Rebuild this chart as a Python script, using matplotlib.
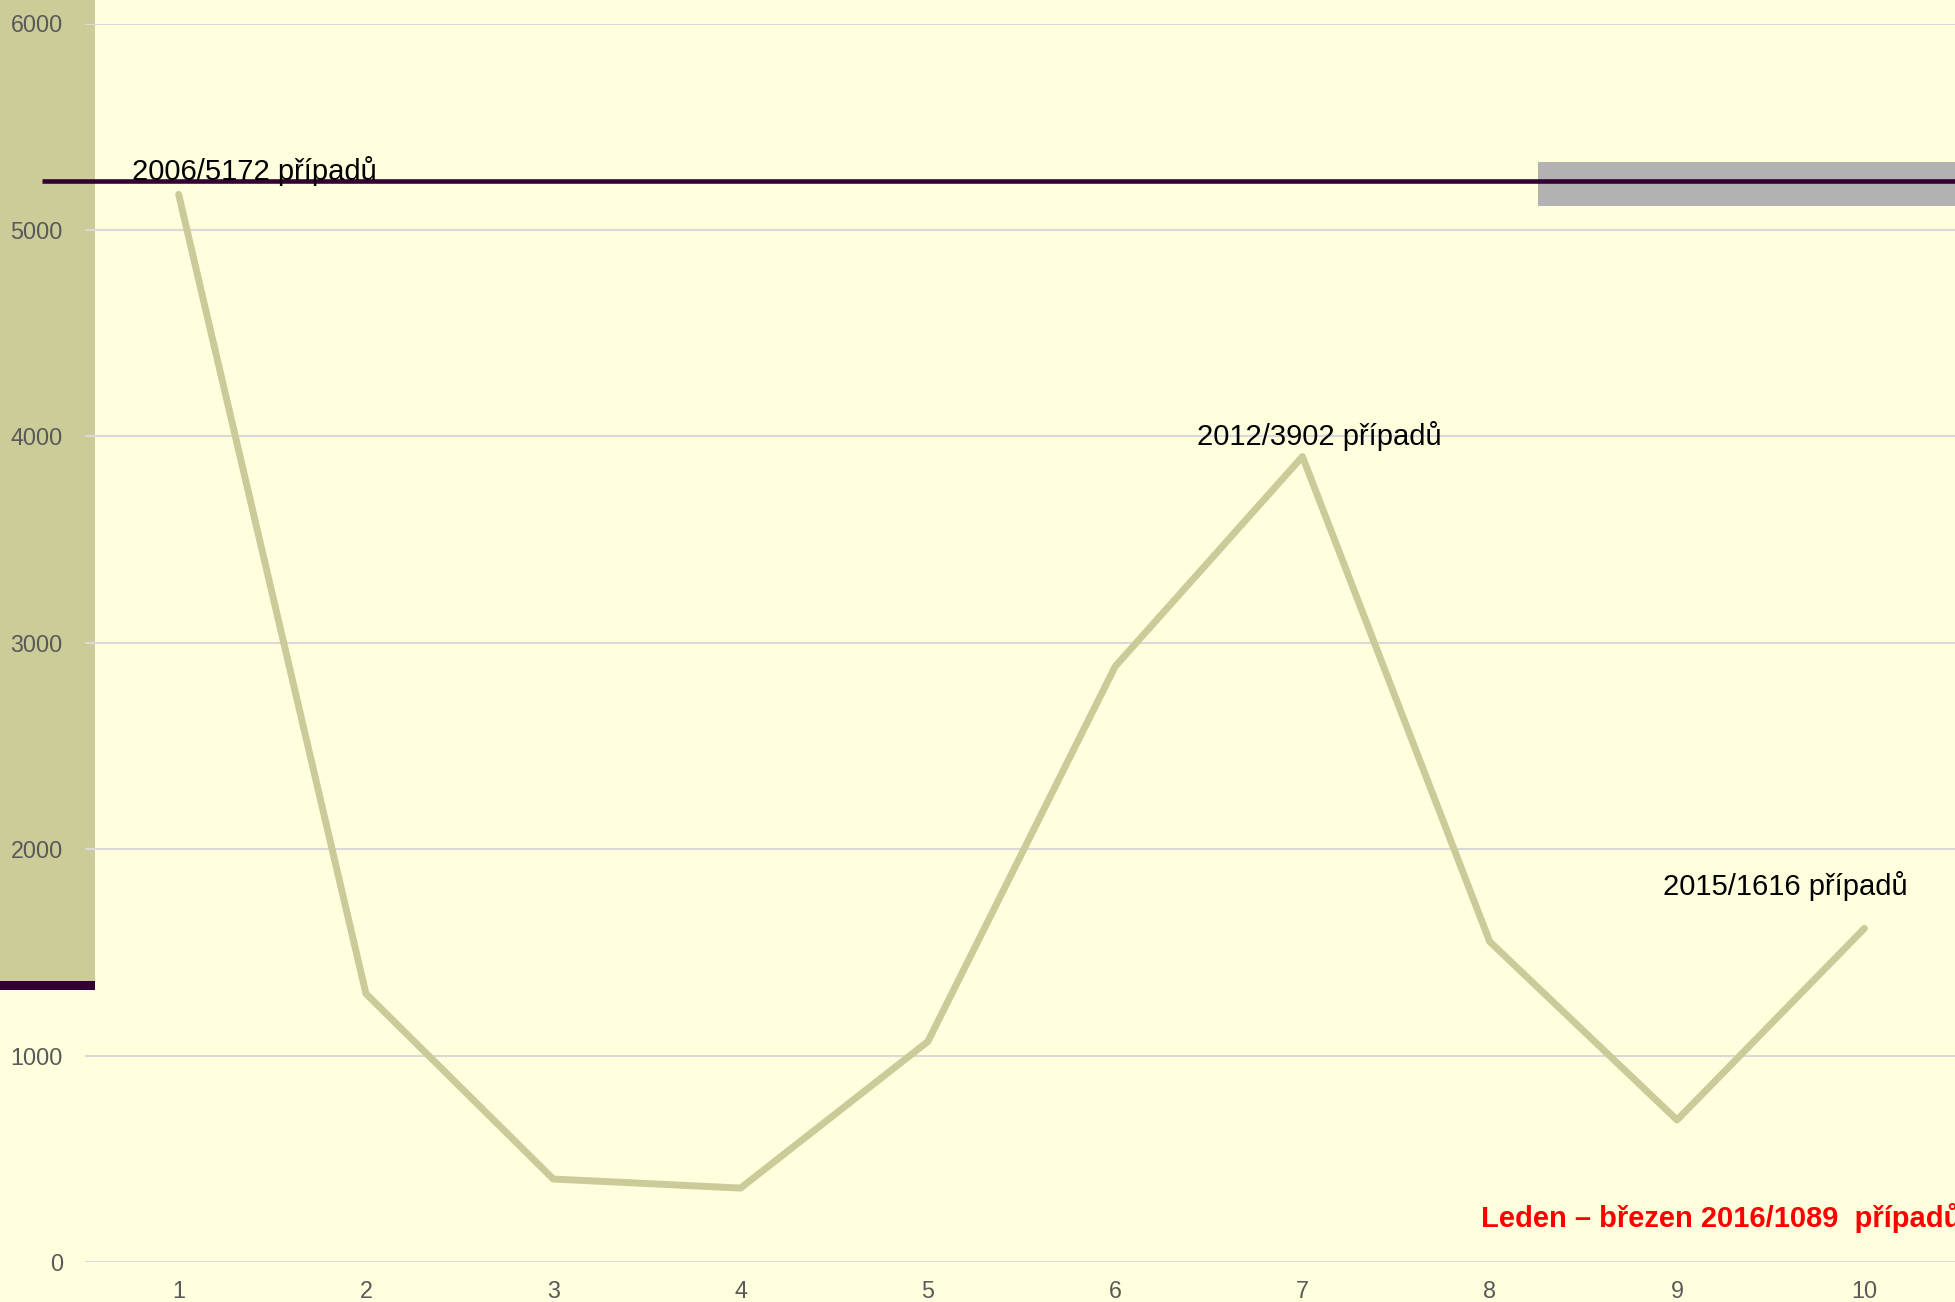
import matplotlib.pyplot as plt
import numpy as np
from matplotlib.patches import Rectangle

plt.rcParams['font.family'] = ['Liberation Sans', 'DejaVu Sans']

# data
x = [1, 2, 3, 4, 5, 6, 7, 8, 9, 10]
pripady = [5172, 1300, 402, 358, 1068, 2885, 3902, 1552, 688, 1616]
y_ticks = [0, 1000, 2000, 3000, 4000, 5000, 6000]

popisky = ["2006/5172 případů", "2012/3902 případů", "2015/1616 případů"]
popisky_x = [0.75, 6.435, 8.923]
popisky_y = [5242, 3958, 1778]
poznamka = "Leden – březen 2016/1089  případů"

bg = '#FFFFDE'
olive = '#CCCC99'
line_col = '#CACB99'
dark = '#330033'

fig = plt.figure(figsize=(19.56, 13.02), dpi=100, facecolor=bg)
ax = fig.add_axes([85/1956, 1 - 1262/1302, 1873/1956, (1262 - 23.5)/1302])
ax.set_facecolor('none')

# decorations (slide background)
ax.add_patch(Rectangle((0, (1302 - 981)/1302), 95/1956, 981/1302, transform=fig.transFigure,
                       facecolor=olive, edgecolor='none', clip_on=False, zorder=0.2))
ax.add_patch(Rectangle((0, (1302 - 990)/1302), 95/1956, 9/1302, transform=fig.transFigure,
                       facecolor=dark, edgecolor='none', clip_on=False, zorder=0.2))
ax.add_patch(Rectangle((1538/1956, (1302 - 206)/1302), 1 - 1538/1956, 44/1302, transform=fig.transFigure,
                       facecolor='#B2B2B2', edgecolor='none', clip_on=False, zorder=1))
ax.plot([42/1956, 1], [1 - 181/1302, 1 - 181/1302], transform=fig.transFigure, color=dark,
        lw=3.3, clip_on=False, zorder=1.5, solid_capstyle='butt')

ax.plot(x, pripady, color=line_col, lw=5, solid_capstyle='round', zorder=2)

for t, tx, ty in zip(popisky, popisky_x, popisky_y):
    ax.text(tx, ty, t, fontsize=21, color='black', va='baseline', ha='left', zorder=3)
ax.text(7.951, 170, poznamka, fontsize=21, fontweight='bold', color='#FF0000',
        va='baseline', ha='left', zorder=3, clip_on=False)

ax.set_xlim(0.5, 10.5)
ax.set_ylim(0, 6000)
ax.set_xticks(x)
ax.set_yticks(y_ticks)
ax.set_axisbelow(True)
ax.grid(axis='y', color='#D9D9D9', lw=1.5)
ax.grid(axis='x', visible=False)
for s in ax.spines.values():
    s.set_visible(False)
ax.tick_params(axis='y', length=0, pad=16, labelsize=16.8, labelcolor='#595959')
ax.tick_params(axis='x', length=0, pad=13, labelsize=16.8, labelcolor='#595959')

plt.savefig('out.png', dpi=100, facecolor=bg)
